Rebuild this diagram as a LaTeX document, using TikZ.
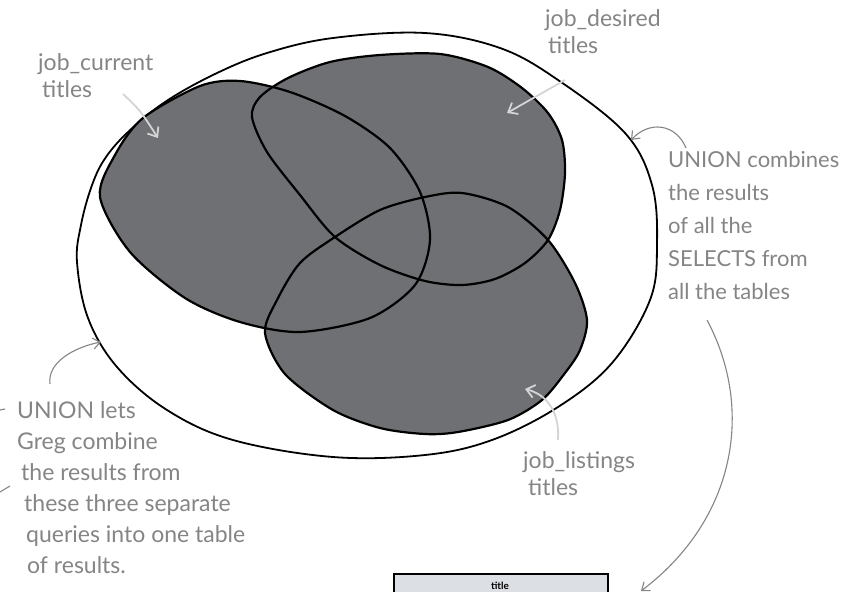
\documentclass[tikz,border=0pt]{standalone}
\usepackage{fontspec}
\setmainfont{Lato}
\usetikzlibrary{arrows.meta}
\definecolor{blobfill}{HTML}{6F7073}
\definecolor{inkgray}{HTML}{858585}
\definecolor{paleink}{HTML}{D4D4D4}
\definecolor{tblfill}{HTML}{DCDFE3}
\begin{document}
\begin{tikzpicture}[x=1pt,y=-1pt,
  outline/.style={draw=black,line width=2.2pt},
  hand/.style={text=inkgray, align=left, inner sep=0pt, anchor=north west},
  bigtext/.style={hand, font=\fontsize{22}{33}\selectfont},
  lefttext/.style={hand, font=\fontsize{23}{31}\selectfont},
  smalltext/.style={hand, font=\fontsize{23}{27}\selectfont},
  lead/.style={draw=inkgray, line width=1.1pt, -{Straight Barb[length=7pt,width=11pt]}},
  paleleader/.style={draw=paleink, line width=1.8pt, -{Straight Barb[length=8pt,width=13pt]}},
  tablebox/.style={draw=black, fill=tblfill, line width=1.6pt, minimum width=214pt, minimum height=40pt, inner sep=0pt},
]
\useasboundingbox (0,0) rectangle (850,591);
\clip (0,0) rectangle (850,591);
\fill[white] (0,0) rectangle (850,591);

% outer union ellipse
\draw[line width=1.8pt] plot[smooth cycle, tension=0.6] coordinates {
  (77,262) (81,225) (91,188) (104,160) (127,133) (165,102) (215,74) (267,53)
  (333,38) (425,33) (500,48) (558,80) (625,133) (652,185) (657,245) (650,300)
  (612,363) (558,407) (492,440) (425,455) (333,457) (233,440) (167,410)
  (117,367) (88,318)};

% blob fills
\fill[blobfill] plot[smooth cycle] coordinates {
  (100,197) (115,155) (143,118) (200,86) (240,81) (290,92) (345,116)
  (390,148) (420,192) (430,240) (415,285) (370,318) (300,332) (240,322)
  (185,298) (130,252)};
\fill[blobfill] plot[smooth cycle] coordinates {
  (252,117) (267,152) (300,195) (335,237) (380,265) (425,281) (462,285)
  (495,279) (525,263) (548,240) (560,210) (565,173) (562,140) (548,113)
  (522,88) (488,67) (440,54) (380,55) (330,62) (288,78) (260,97)};
\fill[blobfill] plot[smooth cycle] coordinates {
  (277,300) (300,263) (335,237) (380,210) (425,197) (462,193) (508,207)
  (548,240) (575,283) (587,320) (580,350) (565,373) (542,400) (508,420)
  (458,432) (425,434) (380,428) (333,410) (285,374) (265,333)};

% blob outlines
\draw[outline] plot[smooth cycle] coordinates {
  (100,197) (115,155) (143,118) (200,86) (240,81) (290,92) (345,116)
  (390,148) (420,192) (430,240) (415,285) (370,318) (300,332) (240,322)
  (185,298) (130,252)};
\draw[outline] plot[smooth cycle] coordinates {
  (252,117) (267,152) (300,195) (335,237) (380,265) (425,281) (462,285)
  (495,279) (525,263) (548,240) (560,210) (565,173) (562,140) (548,113)
  (522,88) (488,67) (440,54) (380,55) (330,62) (288,78) (260,97)};
\draw[outline] plot[smooth cycle] coordinates {
  (277,300) (300,263) (335,237) (380,210) (425,197) (462,193) (508,207)
  (548,240) (575,283) (587,320) (580,350) (565,373) (542,400) (508,420)
  (458,432) (425,434) (380,428) (333,410) (285,374) (265,333)};

% labels
\node[smalltext] (lblcur) at (38,53) {job\_current\\\hspace*{4pt}titles};
\node[smalltext] (lbldes) at (545,9) {job\_desired\\\hspace*{3pt}titles};
\node[smalltext] (lbllst) at (523,451) {job\_listings\\\hspace*{5pt}titles};
\node[bigtext] (lblcomb) at (668,151) {UNION combines\\the results\\of all the\\SELECTS from\\all the tables};
\node[lefttext] (lbllets) at (17,401) {UNION lets\\Greg combine\\\hspace*{4pt}the results from\\\hspace*{7pt}these three separate\\\hspace*{9pt}queries into one table\\\hspace*{10pt}of results.};

% result table
\node[tablebox, anchor=north west] (tbl) at (393,573) {};
\node[font=\fontsize{10}{12}\selectfont\bfseries, inner sep=0pt, anchor=base] (tblhead) at (500,589) {title};

% leader coordinates
\coordinate (curS) at (123,94);
\coordinate (curE) at (158,138);
\coordinate (desS) at (565,80);
\coordinate (desE) at (507,113);
\coordinate (lstS) at (558,440);
\coordinate (lstE) at (525,389);
\coordinate (combS) at (686,148);
\coordinate (combE) at (631,140);
\coordinate (letsS) at (50,384);
\coordinate (letsE) at (101,342);
\coordinate (bigS) at (707,320);
\coordinate (bigE) at (641,591);

\draw[paleleader] (curS) .. controls (140,110) .. (curE);
\draw[paleleader] (desS) -- (desE);
\draw[paleleader] (lstS) .. controls (560,410) and (545,394) .. (lstE);
\draw[lead] (combS) .. controls (676,124) and (650,120) .. (combE);
\draw[lead] (letsS) .. controls (47,362) and (75,347) .. (letsE);
\draw[lead] (bigS) .. controls (755,410) and (735,520) .. (bigE);

% cut-off leader ends at the left margin
\coordinate (mkA1) at (0,410);
\coordinate (mkA2) at (5,409);
\coordinate (mkB1) at (0,492);
\coordinate (mkB2) at (10,486);
\draw[inkgray, line width=1.1pt] (mkA1) -- (mkA2);
\draw[inkgray, line width=1.1pt] (mkB1) -- (mkB2);
\end{tikzpicture}
\end{document}
